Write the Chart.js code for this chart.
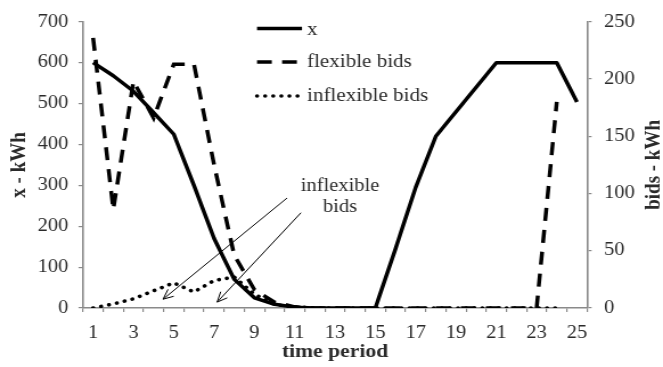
<!DOCTYPE html>
<html>
<head>
<meta charset="utf-8">
<script src="https://cdn.jsdelivr.net/npm/chart.js@4.4.0/dist/chart.umd.min.js"></script>
<style>
html,body{margin:0;padding:0;background:#fff;overflow:hidden;}
#wrap{width:663px;height:367px;overflow:hidden;position:relative;}
#c{display:block;transform:scaleX(1.13918);transform-origin:0 0;}
</style>
</head>
<body>
<div id="wrap"><canvas id="c" width="582" height="367" style="width:582px;height:367px"></canvas></div>
<script>
// ---- data ----
const categories = ['1','2','3','4','5','6','7','8','9','10','11','12','13','14','15','16','17','18','19','20','21','22','23','24','25'];
const seriesNames = ['x', 'flexible bids', 'inflexible bids'];
const xValues = [600, 568, 530, 478, 425, 300, 170, 70, 25, 9, 2, 0, 0, 0, 0, 145, 295, 420, 480, 540, 600, 600, 600, 600, 504];
const flexibleBids = [236, 86, 198, 166, 213, 213, 125, 46, 16, 5, 1, 0, 0, 0, 0, 0, 0, 0, 0, 0, 0, 0, 0, 180, null];
const inflexibleBids = [0, 3.5, 8, 15, 22, 14, 24, 27, 12, 3, 1, 0, 0, 0, 0, 0, 0, 0, 0, 0, 0, 0, 0, 0, null];
const leftTicks = {min: 0, max: 700, step: 100};
const rightTicks = {min: 0, max: 250, step: 50};
const axisTitles = {x: 'time period', y: 'x - kWh', y2: 'bids - kWh'};
const noteLines = ['inflexible', 'bids'];

// ---- font selection (Times-metric serif preferred) ----
const mctx = document.createElement('canvas').getContext('2d');
function avail(name) {
  const s = 'inflexible bids 0123456789 WkWh';
  mctx.font = '40px monospace';
  const a = mctx.measureText(s).width;
  mctx.font = '40px "' + name + '", monospace';
  const b = mctx.measureText(s).width;
  mctx.font = '40px sans-serif';
  const c = mctx.measureText(s).width;
  mctx.font = '40px "' + name + '", sans-serif';
  const d = mctx.measureText(s).width;
  return a !== b || c !== d;
}
const candidates = ['Liberation Serif', 'Times New Roman', 'Tinos', 'Nimbus Roman', 'Nimbus Roman No9 L', 'FreeSerif', 'Noto Serif', 'DejaVu Serif'];
let chosen = 'serif';
for (const c of candidates) { if (avail(c)) { chosen = c; break; } }
const FONT = '"' + chosen + '", serif';
// size correction so the text width matches Times metrics
mctx.font = '100px ' + FONT;
const measured = mctx.measureText('inflexible bids').width;
const FS = Math.min(1, 575 / measured);

// ---- styling ----
const SX = 663 / 582;
const GRAY = '#8a8a8a';
const TEXT = '#2a2a2a';

const overlay = {
  id: 'overlay',
  afterDraw(chart) {
    const ctx = chart.ctx;
    const ca = chart.chartArea;
    const xs = chart.scales.x, ys = chart.scales.y;
    ctx.save();
    ctx.fillStyle = TEXT;
    // axis titles
    ctx.font = 'bold ' + (19 * FS) + 'px ' + FONT;
    ctx.textAlign = 'center';
    ctx.textBaseline = 'alphabetic';
    ctx.fillText(axisTitles.x, (ca.left + ca.right) / 2, 357);
    ctx.textBaseline = 'middle';
    ctx.save();
    ctx.translate(16.7, (ca.top + ca.bottom) / 2);
    ctx.rotate(-Math.PI / 2);
    ctx.fillText(axisTitles.y, 0, 0);
    ctx.restore();
    ctx.save();
    ctx.translate(574, (ca.top + ca.bottom) / 2);
    ctx.rotate(-Math.PI / 2);
    ctx.fillText(axisTitles.y2, 0, 0);
    ctx.restore();

    // legend
    const lineY = [28.5, 62, 96];
    const textY = [35, 67, 101];
    const lx1 = 225.6, lx2 = 265.1, tx = 269.5;
    chart.data.datasets.forEach((ds, i) => {
      ctx.save();
      ctx.strokeStyle = ds.borderColor;
      ctx.lineWidth = ds.borderWidth;
      ctx.lineCap = ds.borderCapStyle || 'butt';
      ctx.setLineDash(ds.borderDash || []);
      ctx.beginPath();
      ctx.moveTo(lx1, lineY[i]);
      ctx.lineTo(lx2, lineY[i]);
      ctx.stroke();
      ctx.restore();
      ctx.font = (18.5 * FS) + 'px ' + FONT;
      ctx.textAlign = 'left';
      ctx.textBaseline = 'alphabetic';
      ctx.fillText(ds.label, tx, textY[i]);
    });

    // annotation text (anchored in data units)
    ctx.font = (18 * FS) + 'px ' + FONT;
    ctx.textAlign = 'center';
    ctx.textBaseline = 'alphabetic';
    ctx.fillText(noteLines[0], xs.getPixelForValue(12.25), ys.getPixelForValue(286));
    ctx.fillText(noteLines[1], xs.getPixelForValue(12.25), ys.getPixelForValue(236));

    // arrows (anchored in data units: category index, left-axis value)
    const arrows = [[9.62, 269, 3.47, 21.6], [10.31, 233, 6.15, 14.4]];
    ctx.strokeStyle = '#000';
    ctx.lineWidth = 1;
    arrows.forEach(a => {
      const x1 = xs.getPixelForValue(a[0]), y1 = ys.getPixelForValue(a[1]);
      const x2 = xs.getPixelForValue(a[2]), y2 = ys.getPixelForValue(a[3]);
      ctx.beginPath(); ctx.moveTo(x1, y1); ctx.lineTo(x2, y2); ctx.stroke();
      const ang = Math.atan2(y2 - y1, (x2 - x1) * SX);
      const L = 11, w = 0.42;
      const p1x = x2 - L * Math.cos(ang - w) / SX, p1y = y2 - L * Math.sin(ang - w);
      const p2x = x2 - L * Math.cos(ang + w) / SX, p2y = y2 - L * Math.sin(ang + w);
      ctx.beginPath();
      ctx.moveTo(p1x, p1y); ctx.lineTo(x2, y2); ctx.lineTo(p2x, p2y);
      ctx.stroke();
    });
    ctx.restore();
  }
};

const tickFont = {family: FONT, size: 18 * FS};

new Chart(document.getElementById('c'), {
  type: 'line',
  data: {
    labels: categories,
    datasets: [
      {label: seriesNames[0], data: xValues, yAxisID: 'y', borderColor: '#000', borderWidth: 3.5,
       pointRadius: 0, tension: 0, borderJoinStyle: 'round', borderCapStyle: 'butt'},
      {label: seriesNames[1], data: flexibleBids, yAxisID: 'y2', borderColor: '#000', borderWidth: 3.5,
       borderDash: [13, 9], pointRadius: 0, tension: 0, borderCapStyle: 'butt'},
      {label: seriesNames[2], data: inflexibleBids, yAxisID: 'y2', borderColor: '#000', borderWidth: 3.6,
       borderDash: [0.1, 7], borderCapStyle: 'round', pointRadius: 0, tension: 0}
    ]
  },
  options: {
    responsive: false,
    animation: false,
    devicePixelRatio: 1,
    layout: {padding: {top: 17, left: 0, right: 0, bottom: 0}},
    plugins: {legend: {display: false}, tooltip: {enabled: false}},
    scales: {
      x: {
        type: 'category', offset: true,
        grid: {offset: true, drawOnChartArea: false, drawTicks: true, tickLength: 4, color: GRAY, lineWidth: 1.2},
        border: {display: true, color: GRAY, width: 1.6},
        ticks: {autoSkip: false, maxRotation: 0, minRotation: 0, padding: 10, color: TEXT, font: tickFont,
                callback: (v, i) => (i % 2 === 0 ? categories[i] : '')},
        afterFit: s => { s.height = 59; }
      },
      y: {
        position: 'left', min: leftTicks.min, max: leftTicks.max,
        grid: {drawOnChartArea: false, drawTicks: true, tickLength: 4, color: GRAY, lineWidth: 1.2},
        border: {display: true, color: GRAY, width: 1.6},
        ticks: {stepSize: leftTicks.step, padding: 9, color: TEXT, font: tickFont},
        afterFit: s => { s.width = 72.9; }
      },
      y2: {
        position: 'right', min: rightTicks.min, max: rightTicks.max,
        grid: {drawOnChartArea: false, drawTicks: true, tickLength: 4, color: GRAY, lineWidth: 1.2},
        border: {display: true, color: GRAY, width: 1.6},
        ticks: {stepSize: rightTicks.step, padding: 11, color: TEXT, font: tickFont},
        afterFit: s => { s.width = 66.7; }
      }
    }
  },
  plugins: [overlay]
});
</script>
</body>
</html>
